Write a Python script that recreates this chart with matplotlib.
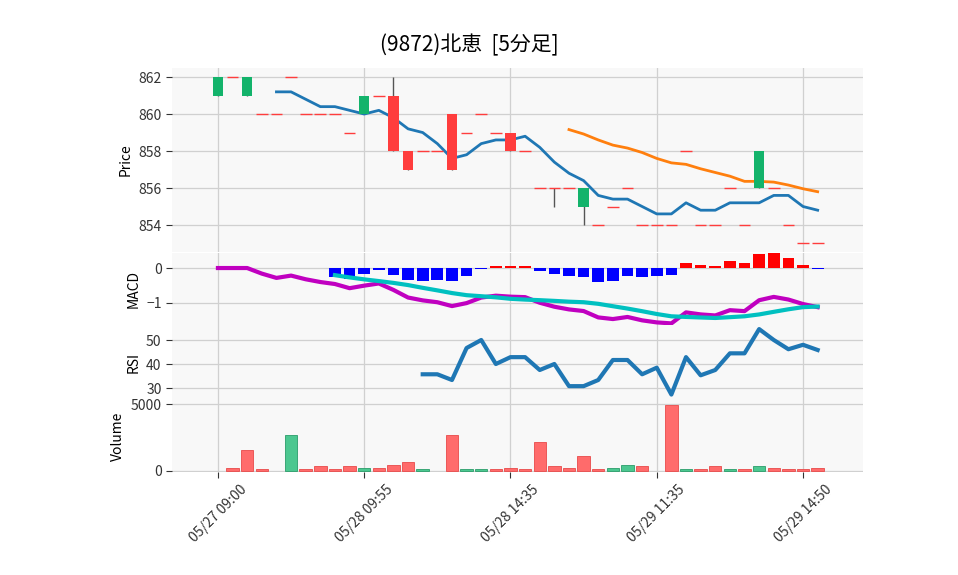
import matplotlib
matplotlib.use("Agg")
import matplotlib.pyplot as plt
import numpy as np
import pandas as pd

plt.rcParams['font.family'] = ['Noto Sans CJK JP', 'DejaVu Sans']

opens  = [861,862,861,860,860,862,860,860,860,859,860,861,861,858,858,858,860,859,860,859,
          859,858,856,856,856,855,854,855,856,854,854,854,858,854,854,856,854,856,856,854,853,853]
closes = [862,862,862,860,860,862,860,860,860,859,861,861,858,857,858,858,857,859,860,859,
          858,858,856,856,856,856,854,855,856,854,854,854,858,854,854,856,854,858,856,854,853,853]
highs  = [862,862,862,860,860,862,860,860,860,859,861,861,862,858,858,858,860,859,860,859,
          859,858,856,856,856,856,854,855,856,854,854,854,858,854,854,856,854,858,856,854,853,853]
lows   = [861,862,861,860,860,862,860,860,860,859,860,861,858,857,858,858,857,859,860,859,
          858,858,856,855,856,854,854,855,856,854,854,854,858,854,854,856,854,856,856,854,853,853]
volumes = [0,200,1600,120,0,2700,120,350,120,350,200,200,420,640,120,0,2700,120,120,120,
           200,120,2130,350,200,1090,120,200,420,350,0,4950,120,120,350,120,120,350,200,120,120,200]
tick_pos = [0,10,20,30,40]
tick_labels = ['05/27 09:00','05/28 09:55','05/28 14:35','05/29 11:35','05/29 14:50']
title = '(9872)北恵  [5分足]'

c = pd.Series(closes, dtype=float)
ma5 = c.rolling(5).mean()
ma25 = c.rolling(25).mean()
macd = c.ewm(span=12, adjust=False).mean() - c.ewm(span=26, adjust=False).mean()
sig = macd.rolling(9).mean()
hist = macd - sig
d = c.diff()
up = d.clip(lower=0).rolling(14).mean()
dn = (-d.clip(upper=0)).rolling(14).mean()
rsi = 100 * up / (up + dn)

W, H = 958, 575
fig = plt.figure(figsize=(W/100, H/100), dpi=100)
def ax_at(top, bot):
    return fig.add_axes([172/W, 1-bot/H, (863-172)/W, (bot-top)/H])
ax1 = ax_at(68, 252)
ax2 = ax_at(253, 325)
ax3 = ax_at(325, 400)
ax4 = ax_at(400, 472)
x = np.arange(len(closes))
for a in (ax1, ax2, ax3, ax4):
    a.set_facecolor('#f8f8f8')
    a.grid(True, color='#d0d0d0', lw=0.9)
    a.set_axisbelow(True)
    for s in a.spines.values():
        s.set_visible(False)
    a.set_xlim(-3.14, 44.1)
    a.set_xticks(tick_pos)
    a.tick_params(length=4, colors='#333333', labelsize=10)
    if a is not ax4:
        a.tick_params(labelbottom=False, bottom=False)

UP, DN = '#13b36b', '#ff3d3d'
for i in x:
    o, cl, h, l = opens[i], closes[i], highs[i], lows[i]
    col = UP if cl > o else DN
    ax1.vlines(i, l, h, color='#555555', lw=1, zorder=2)
    bh = abs(cl - o)
    if bh == 0:
        ax1.hlines(o, i-0.4, i+0.4, color=DN, lw=1, zorder=3)
    else:
        ax1.bar(i, bh, bottom=min(o, cl), width=0.7, color=col, zorder=3)
ax1.plot(x, ma5, color='#1f77b4', lw=2)
ax1.plot(x, ma25, color='#ff7f0e', lw=2)
ax1.set_ylim(852.54, 862.49)
ax1.set_yticks([854,856,858,860,862])
ax1.set_ylabel('Price')

ax2.bar(x, hist, width=0.8, color=['red' if v > 0 else 'blue' for v in hist.fillna(0)])
ax2.plot(x, macd, color='#c000c0', lw=3)
ax2.plot(x, sig, color='#00c0c0', lw=3)
ax2.set_ylim(-1.63, 0.43)
ax2.set_yticks([0, -1])
ax2.set_ylabel('MACD')

ax3.plot(x, rsi, color='#1f77b4', lw=3)
ax3.set_ylim(25, 56.25)
ax3.set_yticks([30, 40, 50])
ax3.set_ylabel('RSI')

for i in x:
    if volumes[i] <= 0:
        continue
    upc = i > 0 and closes[i] > closes[i-1]
    ax4.bar(i, volumes[i], width=0.85, color='#4cc790' if upc else '#ff6b6b',
            edgecolor='#2a9d6a' if upc else '#e84a4a', lw=0.6)
ax4.set_ylim(-75, 5300)
ax4.set_yticks([0, 5000])
ax4.set_ylabel('Volume')
ax4.set_xticklabels(tick_labels, rotation=45)

fig.text(0.49, 1-45/H, title, ha='center', va='center', fontsize=15)
fig.savefig('out.png', dpi=100)
